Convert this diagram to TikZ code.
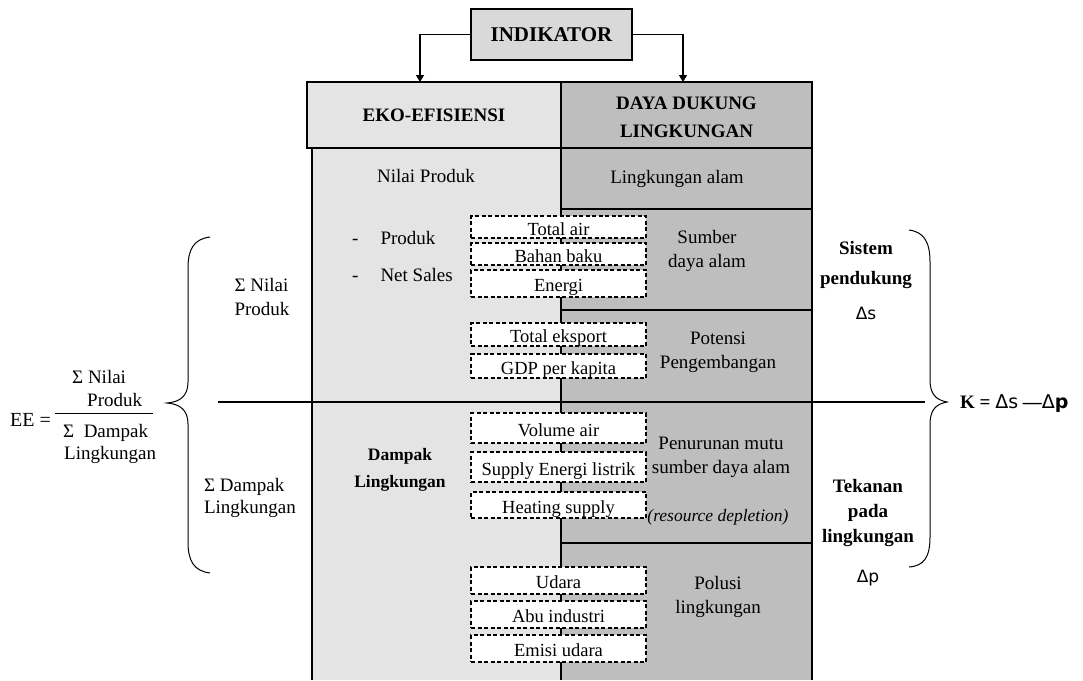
\documentclass[tikz,border=0pt]{standalone}
\usepackage{fontspec}
\setmainfont{Liberation Serif}
\newfontfamily\dvs{DejaVu Sans}
\usetikzlibrary{arrows.meta}
\definecolor{lgray}{HTML}{E4E4E4}
\definecolor{dgray}{HTML}{BEBEBE}
\definecolor{igray}{HTML}{D9D9D9}
\begin{document}
\begin{tikzpicture}[x=1pt,y=-1pt,
  txt/.style={inner sep=0pt, align=center, font=\fontsize{19}{24}\selectfont},
  btxt/.style={inner sep=0pt, align=center, font=\fontsize{19}{29}\selectfont\bfseries},
  dbox/.style={draw, dash pattern=on 4pt off 2.5pt, fill=white, line width=1.1pt,
     minimum width=175pt, inner sep=0pt, text height=16pt, text depth=0pt,
     font=\fontsize{18.5}{20}\selectfont},
  line/.style={line width=1.2pt},
  arr/.style={line width=1.1pt, -{Triangle[width=8pt,length=7pt]}},
  hdr/.style={draw, line width=1.2pt, inner sep=0pt, align=center,
     font=\fontsize{19}{28}\selectfont\bfseries}]
\useasboundingbox (0,0) rectangle (1083,680);

% column backgrounds
\fill[lgray] (312,148) rectangle (561,680);
\fill[dgray] (561,148) rectangle (812,680);

% top indicator and headers
\node[hdr, fill=igray, minimum width=161pt, minimum height=51pt,
  font=\fontsize{21}{24}\selectfont\bfseries] (ind) at (551.5,34.5) {INDIKATOR};
\node[hdr, fill=lgray, minimum width=254pt, minimum height=66pt] (eko) at (434,115) {EKO-EFISIENSI};
\node[hdr, fill=dgray, minimum width=251pt, minimum height=66pt, text height=44pt, text depth=0pt] (daya) at (686.5,115) {DAYA DUKUNG\\LINGKUNGAN};
\coordinate (ekoin) at (420,82);
\coordinate (dayain) at (683,82);
\draw[arr] (ind.west) -| (ekoin);
\draw[arr] (ind.east) -| (dayain);

% column lines
\draw[line] (312,148) -- (312,680);
\draw[line] (561,148) -- (561,680);
\draw[line] (812,148) -- (812,680);
\draw[line] (561,209) -- (812,209);
\draw[line] (561,310) -- (812,310);
\draw[line] (561,543) -- (812,543);
\draw[line] (218,402) -- (925,402);

% left column texts
\node[txt, draw=black!10, line width=0.6pt, minimum width=148pt, minimum height=33pt] (np) at (426,175.5) {Nilai Produk};
\node[txt, anchor=base west] (prod) at (352,244) {-\hspace{22pt}Produk};
\node[txt, anchor=base west] (ns) at (352,281) {-\hspace{22pt}Net Sales};
\draw[black!10, line width=0.6pt] (352,437) rectangle (476,503);
\node[inner sep=0pt, align=center, font=\fontsize{17.5}{27}\selectfont\bfseries] (dl) at (400,470) {Dampak\\Lingkungan};

% right column texts
\node[txt] (la) at (677,179) {Lingkungan alam};
\node[txt] (sda) at (707,251) {Sumber\\daya alam};
\node[txt] (pp) at (718,352) {Potensi\\Pengembangan};
\node[txt] (pm) at (721,457) {Penurunan mutu\\sumber daya alam};
\node[inner sep=0pt, font=\fontsize{17.5}{20}\selectfont\itshape] (rd) at (718,517) {(resource depletion)};
\node[txt] (pl) at (718,597) {Polusi\\lingkungan};

% dashed indicator boxes
\node[dbox, minimum height=22pt] (b1) at (558.5,227) {Total air};
\node[dbox, minimum height=22pt] (b2) at (558.5,254) {Bahan baku};
\node[dbox, minimum height=27pt] (b3) at (558.5,283.5) {Energi};
\node[dbox, minimum height=23pt] (b4) at (558.5,334.5) {Total eksport};
\node[dbox, minimum height=24pt] (b5) at (558.5,366) {GDP per kapita};
\node[dbox, minimum height=30pt] (b6) at (558.5,428) {Volume air};
\node[dbox, minimum height=30pt] (b7) at (558.5,467) {Supply Energi listrik};
\node[dbox, minimum height=26pt] (b8) at (558.5,505) {Heating supply};
\node[dbox, minimum height=27pt] (b9) at (558.5,580.5) {Udara};
\node[dbox, minimum height=27pt] (b10) at (558.5,614.5) {Abu industri};
\node[dbox, minimum height=27pt] (b11) at (558.5,648.5) {Emisi udara};

% left side: braces and formula
\draw[line width=1pt] (210,237) .. controls (194,239) and (188,249) .. (188,268)
  -- (188,382) .. controls (188,396) and (180,402) .. (167,403)
  .. controls (180,404) and (188,410) .. (188,424)
  -- (188,542) .. controls (188,561) and (194,571) .. (210,573);
\node[txt, align=left] (snp) at (262,296.5) {Σ Nilai\\Produk};
\node[txt, align=left, font=\fontsize{19}{22}\selectfont] (sdl) at (250,497.5) {Σ Dampak\\Lingkungan};
\node[inner sep=0pt, anchor=west, font=\fontsize{20}{24}\selectfont] (ee) at (10,420) {EE =};
\node[txt, anchor=west] (f1) at (72,377) {Σ Nilai};
\node[txt, anchor=west] (f2) at (87,400) {Produk};
\draw[line width=1pt] (55,413) -- (153,413);
\node[txt, anchor=west] (f3) at (63,433) {Σ\ \ Dampak};
\node[txt, anchor=west] (f4) at (64,455) {Lingkungan};

% right side: brace and formula
\draw[line width=1pt] (909,230) .. controls (924,232) and (930,242) .. (930,262)
  -- (930,380) .. controls (930,394) and (936,400) .. (947,402)
  .. controls (936,404) and (930,410) .. (930,424)
  -- (930,537) .. controls (930,557) and (924,566) .. (909,567);
\node[btxt] (sp) at (866,265) {Sistem\\pendukung};
\node[inner sep=0pt, font=\fontsize{17}{20}\selectfont\dvs] (ds) at (866,313) {Δs};
\node[btxt, font=\fontsize{19}{25}\selectfont\bfseries] (tp) at (868,513) {Tekanan\\pada\\lingkungan};
\node[inner sep=0pt, font=\fontsize{17}{20}\selectfont\dvs] (dp) at (868,578) {Δp};
\node[inner sep=0pt, anchor=west, font=\fontsize{19}{22}\selectfont\bfseries] (k) at (960,404)
  {K = {\dvs\mdseries Δ}{\dvs\mdseries s} —{\dvs\mdseries Δ}{\dvs p}};
\end{tikzpicture}
\end{document}
